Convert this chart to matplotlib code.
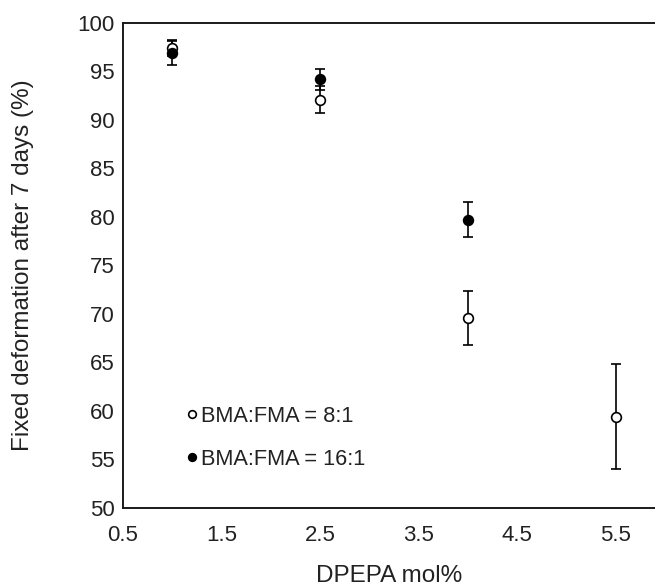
import numpy as np
import matplotlib
matplotlib.use("Agg")
import matplotlib.pyplot as plt

plt.rcParams['font.family'] = ['Liberation Sans', 'DejaVu Sans']

# DPEPA mol% and fixed deformation after 7 days (%)
x_8to1 = [1.0, 2.5, 4.0, 5.5]
y_8to1 = [97.4, 92.1, 69.6, 59.4]
err_8to1 = [0.8, 1.4, 2.8, 5.4]

x_16to1 = [1.0, 2.5, 4.0]
y_16to1 = [96.9, 94.2, 79.7]
err_16to1 = [1.2, 1.1, 1.8]

labels = ["BMA:FMA = 8:1", "BMA:FMA = 16:1"]
xticks = [0.5, 1.5, 2.5, 3.5, 4.5, 5.5]
yticks = np.arange(50, 101, 5)

fig = plt.figure(figsize=(6.55, 5.88), dpi=100)
ax = fig.add_axes([123/655, 1 - 508/588, 532/655, 485/588])

ax.errorbar(x_8to1, y_8to1, yerr=err_8to1, fmt='o', color='black',
            mfc='white', mec='black', ms=7, mew=1.2, elinewidth=1.2,
            capsize=3.3, capthick=1.2, label=labels[0])
ax.errorbar(x_16to1, y_16to1, yerr=err_16to1, fmt='o', color='black',
            mfc='black', mec='black', ms=7, mew=1.2, elinewidth=1.2,
            capsize=3.3, capthick=1.2, label=labels[1])

ax.set_xlim(0.5, 0.5 + 532/98.5)
ax.set_ylim(50, 100)
ax.set_xticks(xticks)
ax.set_xticklabels([f"{t:.1f}" for t in xticks])
ax.set_yticks(yticks)
ax.tick_params(axis='both', length=0, labelsize=16, colors='#222222')
ax.tick_params(axis='x', pad=12)
ax.tick_params(axis='y', pad=6)

for side in ['left', 'top', 'bottom']:
    ax.spines[side].set_linewidth(1.4)
    ax.spines[side].set_color('#1a1a1a')
ax.spines['right'].set_visible(False)

ax.set_xlabel("DPEPA mol%", fontsize=17.5, color='#222222', labelpad=14)
ax.set_ylabel("Fixed deformation after 7 days (%)", fontsize=17.5,
              color='#222222', labelpad=31)

# legend markers without error bars
h1 = ax.plot([], [], 'o', mfc='white', mec='black', ms=5.5, mew=1.2)[0]
h2 = ax.plot([], [], 'o', mfc='black', mec='black', ms=5.5, mew=1.2)[0]
ax.legend([h1, h2], labels, loc='center left', bbox_to_anchor=(0.12, 0.145),
          frameon=False, fontsize=15.7, handlelength=0.5, handletextpad=0.17,
          borderpad=0, borderaxespad=0, labelspacing=1.0, labelcolor='#222222')

fig.savefig("out.png", dpi=100)
